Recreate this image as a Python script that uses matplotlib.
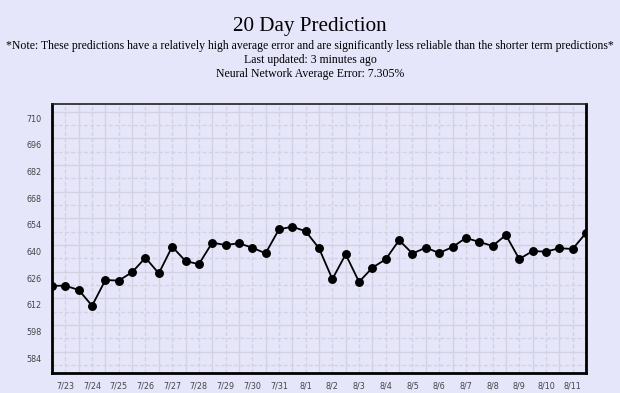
import numpy as np
import matplotlib
matplotlib.use("Agg")
import matplotlib.pyplot as plt

# predicted prices, two points per day
values = [622.1, 622.1, 619.9, 611.6, 625.1, 624.8, 629.2, 636.8, 628.6, 642.6,
          635.1, 633.4, 644.7, 643.5, 644.4, 642.1, 639.1, 651.7, 653.1, 650.7,
          641.8, 625.6, 638.6, 624.1, 631.6, 636.0, 646.0, 639.0, 642.1, 639.3,
          642.4, 647.2, 645.1, 643.0, 648.7, 636.1, 640.3, 640.0, 641.8, 641.4,
          649.8]
day_labels = ["7/23", "7/24", "7/25", "7/26", "7/27", "7/28", "7/29", "7/30", "7/31", "8/1",
              "8/2", "8/3", "8/4", "8/5", "8/6", "8/7", "8/8", "8/9", "8/10", "8/11"]
y_ticks = [584, 598, 612, 626, 640, 654, 668, 682, 696, 710]

bg = "#e6e6fa"
fig = plt.figure(figsize=(6.2, 3.93), dpi=100, facecolor=bg)
ax = fig.add_axes([52 / 620, 1 - 373 / 393, 534 / 620, 269 / 393])
ax.set_facecolor(bg)

x = np.arange(len(values))
ax.set_xlim(0, len(values) - 1)
ax.set_ylim(576.3, 717.5)

# grid lines
grid_c = "#d5d2e0"
for i, gx in enumerate(x):
    ax.axvline(gx, color=grid_c, lw=1.0, ls="-" if i % 2 == 0 else (0, (3, 1.5)), zorder=0)
for i, gy in enumerate(np.arange(699.5 + 14, 570, -7)):
    ax.axhline(gy, color=grid_c, lw=1.0, ls="-" if i % 2 == 0 else (0, (3, 1.5)), zorder=0)

ax.plot(x, values, color="black", lw=1.3, marker="o", markersize=5.4, zorder=3)

ax.set_yticks(y_ticks)
ax.set_yticklabels([str(t) for t in y_ticks])
ax.set_xticks(x[1::2])
ax.set_xticklabels(day_labels)
ax.tick_params(length=0, labelsize=5.8, labelcolor="#444444", pad=6)
ax.tick_params(axis="y", pad=7.5)

for side in ["left", "bottom", "right"]:
    ax.spines[side].set_linewidth(2.0)
    ax.spines[side].set_color("black")
ax.spines["top"].set_linewidth(1.2)
ax.spines["top"].set_color("#222222")

serif = ["Liberation Serif", "DejaVu Serif"]
fig.text(0.5, 1 - 27 / 393, "20 Day Prediction", ha="center", va="center",
         fontsize=15.2, family=serif)
fig.text(0.5, 1 - 46 / 393,
         "*Note: These predictions have a relatively high average error and are significantly less reliable than the shorter term predictions*",
         ha="center", va="center", fontsize=8.5, family=serif)
fig.text(0.5, 1 - 60 / 393, "Last updated: 3 minutes ago", ha="center", va="center",
         fontsize=8.5, family=serif)
fig.text(0.5, 1 - 74 / 393, "Neural Network Average Error: 7.305%", ha="center", va="center",
         fontsize=8.5, family=serif)

fig.savefig("out.png", dpi=100, facecolor=bg)
